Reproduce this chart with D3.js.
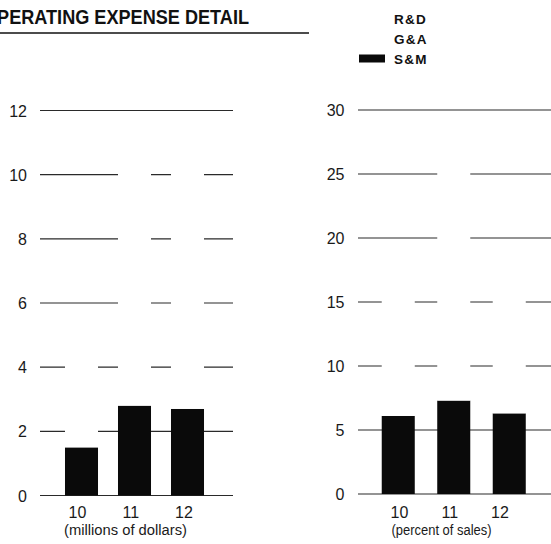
<!DOCTYPE html>
<html><head><meta charset="utf-8">
<script src="https://cdn.jsdelivr.net/npm/d3@7"></script>
<style>
html,body{margin:0;padding:0;background:#fff;}
svg{display:block;font-family:"Liberation Sans",Arial,Helvetica,sans-serif;}
</style></head>
<body>
<script>
// ---- data ----
const years = ["10", "11", "12"];
const series = ["S&M", "G&A", "R&D"];
const legendOrder = ["R&D", "G&A", "S&M"];
// millions of dollars
const dollarsSM = [1.5, 2.8, 2.7];
const dollarsGA = [1.5, 3.8, 3.9];
const dollarsRD = [1.2, 3.6, 3.5];
// percent of sales
const pctSM = [6.1, 7.3, 6.3];
const pctGA = [5.7, 10.1, 5.6];
const pctRD = [5.0, 9.6, 5.1];
const dollarTicks = [0, 2, 4, 6, 8, 10, 12];
const pctTicks = [0, 5, 10, 15, 20, 25, 30];
const titleText = "OPERATING EXPENSE DETAIL";
const dollarLabel = "(millions of dollars)";
const pctLabel = "(percent of sales)";

const colors = {"S&M": "#0a0a0a", "G&A": "#ffffff", "R&D": "#ffffff"};

const W = 551, H = 544;
const svg = d3.select("body").append("svg").attr("width", W).attr("height", H);

// title
svg.append("text").attr("x", -17).attr("y", 24)
  .attr("font-size", 21).attr("font-weight", "bold").attr("fill", "#111")
  .attr("textLength", 266).attr("lengthAdjust", "spacingAndGlyphs")
  .text(titleText);
svg.append("line").attr("x1", 0).attr("x2", 309).attr("y1", 33).attr("y2", 33)
  .attr("stroke", "#111").attr("stroke-width", 1.5);

// legend
const legY = d3.scalePoint().domain(legendOrder).range([18.5, 58.5]);
const leg = svg.append("g");
legendOrder.forEach(k => {
  leg.append("rect").attr("x", 359).attr("y", legY(k) - 4).attr("width", 26).attr("height", 8)
    .attr("fill", colors[k]);
  leg.append("text").attr("x", 394).attr("y", legY(k) + 5)
    .attr("font-size", 13.5).attr("font-weight", "bold").attr("letter-spacing", 1.2)
    .attr("fill", "#111").text(k);
});

function panel(cfg) {
  const g = svg.append("g");
  const x = d3.scaleBand().domain(years).range(cfg.xr).paddingInner(cfg.pad).paddingOuter(cfg.pad / 2);
  const y = d3.scaleLinear().domain([0, cfg.max]).range(cfg.yr);
  const xl = d3.scalePoint().domain(years).range(cfg.labelRange);
  // gridlines
  g.selectAll("line.grid").data(cfg.ticks).join("line")
    .attr("x1", cfg.gx[0]).attr("x2", cfg.gx[1])
    .attr("y1", d => y(d)).attr("y2", d => y(d))
    .attr("stroke", "#2a2a2a").attr("stroke-width", 1.2);
  // tick labels
  g.selectAll("text.tick").data(cfg.ticks).join("text")
    .attr("x", cfg.tickX).attr("y", d => y(d) + 6)
    .attr("text-anchor", "end").attr("font-size", 16).attr("fill", "#1a1a1a")
    .text(d => d);
  // stacked bars
  const rows = years.map((yr, i) => ({year: yr, "S&M": cfg.sm[i], "G&A": cfg.ga[i], "R&D": cfg.rd[i]}));
  const stack = d3.stack().keys(series)(rows);
  stack.forEach(layer => {
    g.selectAll(null).data(layer).join("rect")
      .attr("x", d => x(d.data.year)).attr("width", x.bandwidth())
      .attr("y", d => y(d[1])).attr("height", d => y(d[0]) - y(d[1]))
      .attr("fill", colors[layer.key]);
  });
  // x labels
  g.selectAll("text.xl").data(years).join("text")
    .attr("x", d => xl(d)).attr("y", 518)
    .attr("text-anchor", "middle").attr("font-size", 16).attr("fill", "#1a1a1a")
    .text(d => d);
  g.append("text").attr("x", cfg.capCenter - cfg.capW / 2).attr("y", 535)
    .attr("font-size", 14).attr("fill", "#1a1a1a")
    .attr("textLength", cfg.capW).attr("lengthAdjust", "spacingAndGlyphs")
    .text(cfg.caption);
}

panel({
  xr: [55, 214], pad: 0.377, yr: [495.5, 110.5], max: 12, ticks: dollarTicks,
  gx: [40, 233], tickX: 27, sm: dollarsSM, ga: dollarsGA, rd: dollarsRD,
  labelRange: [77.5, 184], capCenter: 125.5, capW: 123, caption: dollarLabel
});
panel({
  xr: [370.5, 537], pad: 0.405, yr: [494, 110], max: 30, ticks: pctTicks,
  gx: [358, 553], tickX: 344.5, sm: pctSM, ga: pctGA, rd: pctRD,
  labelRange: [399.5, 500], capCenter: 441.5, capW: 100, caption: pctLabel
});
</script>
</body></html>
